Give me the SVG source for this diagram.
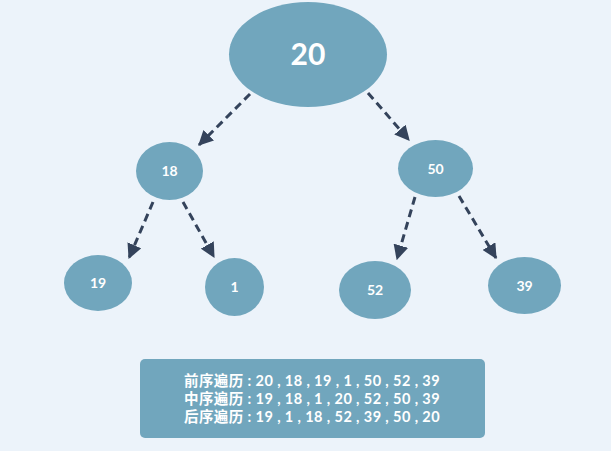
<svg xmlns="http://www.w3.org/2000/svg" width="611" height="451" viewBox="0 0 611 451">
<defs>
<marker id="ah" markerWidth="5" markerHeight="5" refX="4.6" refY="2.5" orient="auto" markerUnits="strokeWidth">
<path d="M0,0 L5,2.5 L0,5 Z" fill="#34435b"/>
</marker>
<style>
.n{fill:#71a6bd}
.t{fill:#ffffff;font-family:Lato,"Open Sans",sans-serif;font-weight:bold;text-anchor:middle}
.e{stroke:#34435b;stroke-width:3;stroke-dasharray:8 5;fill:none;marker-end:url(#ah)}
.b{fill:#ffffff;font-family:Lato,"Noto Sans CJK SC",sans-serif;font-size:14.5px;font-weight:bold;text-anchor:middle;letter-spacing:0.4px}
</style>
</defs>
<rect width="611" height="451" fill="#ecf3fa"/>
<g id="edges">
<line class="e" x1="250" y1="94" x2="199" y2="145"/>
<line class="e" x1="368" y1="93" x2="409" y2="140"/>
<line class="e" x1="153" y1="202" x2="129" y2="258"/>
<line class="e" x1="183" y1="202" x2="214" y2="257"/>
<line class="e" x1="415" y1="197" x2="397" y2="259"/>
<line class="e" x1="459" y1="196" x2="496" y2="258"/>
</g>
<g id="n20"><ellipse class="n" cx="308" cy="54.5" rx="79" ry="52.5"/><text class="t" x="308" y="65" font-size="30">20</text></g>
<g id="n18"><ellipse class="n" cx="169.5" cy="171" rx="33.5" ry="29"/><text class="t" x="169.5" y="176" font-size="14">18</text></g>
<g id="n50"><ellipse class="n" cx="435.5" cy="168.5" rx="37.5" ry="28.5"/><text class="t" x="435.5" y="173.5" font-size="14">50</text></g>
<g id="n19"><ellipse class="n" cx="98" cy="283" rx="34" ry="28"/><text class="t" x="98" y="288" font-size="14">19</text></g>
<g id="n1"><ellipse class="n" cx="234.5" cy="287" rx="29.5" ry="29"/><text class="t" x="234.5" y="292" font-size="14">1</text></g>
<g id="n52"><ellipse class="n" cx="375" cy="290" rx="36" ry="29"/><text class="t" x="375" y="295" font-size="14">52</text></g>
<g id="n39"><ellipse class="n" cx="524.5" cy="285.5" rx="36.5" ry="28.5"/><text class="t" x="524.5" y="290.5" font-size="14">39</text></g>
<g id="result">
<rect x="140" y="359" width="345" height="79" rx="5" fill="#71a6bd"/>
<text class="b" x="312" y="386">前序遍历 : 20 , 18 , 19 , 1 , 50 , 52 , 39</text>
<text class="b" x="312" y="404">中序遍历 : 19 , 18 , 1 , 20 , 52 , 50 , 39</text>
<text class="b" x="312" y="422">后序遍历 : 19 , 1 , 18 , 52 , 39 , 50 , 20</text>
</g>
</svg>
